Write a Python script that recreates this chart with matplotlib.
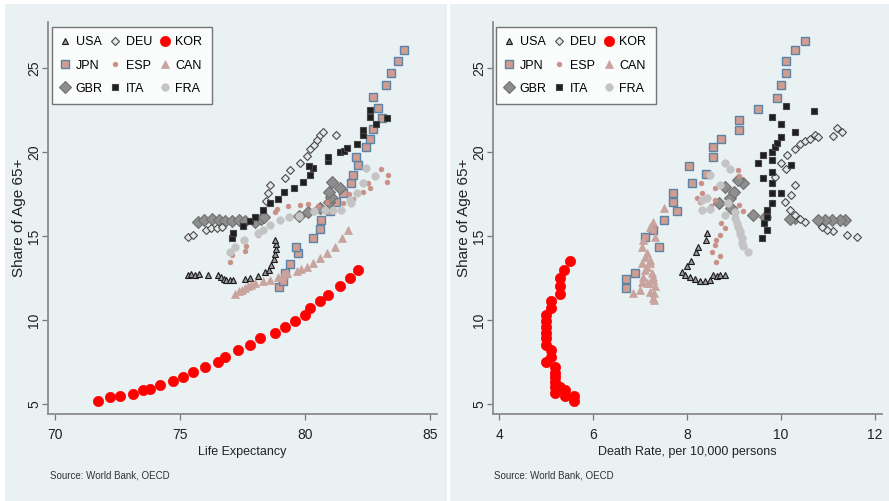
import numpy as np
import matplotlib
matplotlib.use("Agg")
import matplotlib.pyplot as plt
from matplotlib.patches import Rectangle

plt.rcParams['font.family'] = ['Liberation Sans', 'DejaVu Sans']

W, H = 889, 501
BG = '#e9f1f3'

# ---- data: (life expectancy, share 65+) and (death rate, share 65+)
usa_le = [75.3, 75.45, 75.6, 75.75, 76.1, 76.5, 76.65, 76.75, 76.85, 77.0, 77.1, 77.6, 77.8,
          78.1, 78.4, 78.55, 78.65, 78.75, 78.8, 78.85, 78.85, 78.8]
usa_le_age = [12.7, 12.75, 12.7, 12.75, 12.65, 12.7, 12.55, 12.45, 12.35, 12.35, 12.35, 12.45, 12.5,
              12.6, 12.85, 13.0, 13.3, 13.6, 13.9, 14.2, 14.5, 14.75]
usa_dr = [7.89, 8.0, 8.08, 8.2, 8.24, 8.4, 8.42, 7.96, 8.06, 8.17, 8.28, 8.38, 8.49, 8.56, 8.63, 8.7, 8.8]
usa_dr_age = [12.87, 13.2, 13.5, 14.07, 14.36, 14.76, 15.16, 12.68, 12.58, 12.42, 12.34, 12.34, 12.36,
              12.68, 12.6, 12.68, 12.68]

jpn_le = [78.95, 79.13, 79.2, 79.4, 79.7, 79.64, 80.33, 80.6, 80.63, 81.0, 81.24, 81.53, 81.83, 81.93,
          82.13, 82.04, 82.44, 82.6, 82.73, 83.07, 82.93, 82.73, 83.24, 83.44, 83.73, 83.96]
jpn_le_age = [11.95, 12.34, 12.78, 13.33, 13.97, 14.37, 14.9, 15.4, 15.95, 16.5, 17.04, 17.58, 18.17, 18.63,
              19.23, 19.72, 20.3, 20.76, 21.35, 22.0, 22.6, 23.26, 23.97, 24.7, 25.4, 26.1]
jpn_dr = [6.7, 6.7, 6.89, 7.41, 7.11, 7.28, 7.5, 7.79, 7.71, 7.71, 8.1, 8.4, 8.05, 8.55, 8.55, 8.72,
          9.11, 9.11, 9.5, 9.91, 9.99, 10.1, 10.1, 10.3, 10.51]
jpn_dr_age = [11.89, 12.42, 12.82, 14.33, 14.96, 15.36, 15.95, 16.5, 17.04, 17.58, 18.14, 18.67, 19.17,
              19.72, 20.28, 20.8, 21.3, 21.9, 22.54, 23.2, 23.99, 24.72, 25.43, 26.07, 26.6]

gbr_le = [75.73, 75.95, 76.27, 76.55, 76.8, 77.07, 77.35, 77.6, 78.0, 78.25, 78.35, 79.75, 80.1, 80.6,
          80.95, 81.05, 80.95, 81.4, 81.07]
gbr_le_age = [15.85, 15.95, 16.0, 15.95, 15.9, 15.9, 15.95, 15.9, 15.85, 16.0, 16.1, 16.2, 16.4, 16.65,
              17.0, 17.35, 17.6, 17.85, 18.23]
gbr_dr = [11.36, 11.26, 11.08, 10.94, 10.79, 10.3, 10.2, 9.66, 9.41, 8.94, 8.69, 8.91, 8.99, 8.8, 9.2, 9.09]
gbr_dr_age = [15.95, 15.95, 15.95, 15.95, 15.95, 16.05, 16.0, 16.11, 16.25, 16.65, 16.95, 17.24, 17.6,
              17.94, 18.17, 18.33]

deu_le = [75.33, 75.53, 76.04, 76.23, 76.47, 76.67, 78.45, 78.53, 78.6, 79.2, 79.4, 79.8, 80.07, 80.2,
          80.36, 80.47, 80.6, 80.73, 81.24]
deu_le_age = [14.92, 15.06, 15.36, 15.46, 15.46, 15.55, 17.1, 17.54, 18.04, 18.43, 18.93, 19.36, 19.76,
              20.16, 20.42, 20.71, 21.0, 21.2, 21.0]
deu_dr = [11.61, 11.4, 11.11, 10.97, 10.87, 10.51, 10.4, 10.3, 10.19, 10.09, 10.21, 10.3, 9.87, 10.1,
          10.01, 10.12, 10.3, 10.4, 10.51, 10.62, 10.72, 10.79, 11.1, 11.2, 11.29]
deu_dr_age = [14.92, 15.06, 15.3, 15.36, 15.55, 15.85, 16.0, 16.25, 16.55, 17.04, 17.44, 18.04, 18.53,
              18.97, 19.33, 19.8, 20.15, 20.5, 20.68, 20.8, 21.0, 20.87, 20.95, 21.4, 21.2]

esp_le = [77.0, 77.07, 77.6, 77.65, 78.13, 78.8, 78.87, 79.33, 79.8, 80.1, 80.53, 80.87, 81.53, 81.93,
          81.77, 82.33, 82.6, 82.53, 83.27, 83.33, 83.03]
esp_le_age = [13.45, 13.85, 14.1, 14.4, 15.05, 16.45, 16.6, 16.8, 16.85, 16.9, 16.8, 17.04, 16.95, 17.18,
              17.5, 17.64, 17.84, 18.13, 18.23, 18.63, 18.97]
esp_dr = [8.61, 8.7, 8.53, 8.6, 8.62, 8.7, 8.81, 8.72, 8.51, 9.2, 9.11, 8.28, 8.42, 8.21, 8.6, 8.31,
          8.6, 8.29, 9.09, 9.11]
esp_dr_age = [13.47, 13.81, 14.07, 14.46, 14.76, 15.06, 15.46, 15.75, 16.79, 16.5, 16.85, 17.04, 17.34,
              17.24, 17.14, 17.54, 17.84, 18.17, 18.93, 18.6]

ita_le = [77.07, 77.1, 77.5, 77.8, 78.0, 78.3, 78.6, 78.9, 79.15, 79.55, 79.93, 80.2, 80.33, 80.15,
          80.93, 80.93, 81.4, 81.55, 81.67, 82.07, 82.3, 82.33, 82.85, 83.27, 82.6, 82.6]
ita_le_age = [14.86, 15.2, 15.6, 15.9, 16.1, 16.55, 16.95, 17.2, 17.6, 17.85, 18.23, 18.65, 19.03, 19.15,
              19.45, 19.7, 20.0, 20.05, 20.25, 20.5, 21.0, 21.3, 21.65, 22.0, 22.1, 22.5]
ita_dr = [9.59, 9.7, 9.64, 9.7, 9.7, 9.8, 9.8, 10.0, 9.8, 9.62, 9.8, 9.5, 10.21, 9.8, 9.61, 9.8, 9.87,
          9.91, 10.01, 10.3, 10.01, 9.8, 10.71, 10.1]
ita_dr_age = [14.86, 15.36, 15.8, 16.15, 16.55, 16.98, 17.54, 17.58, 18.13, 18.43, 18.83, 19.36, 19.23,
              19.52, 19.82, 20.02, 20.28, 20.55, 20.91, 21.2, 21.67, 22.06, 22.43, 22.74]

kor_le = [71.7, 72.2, 72.6, 73.1, 73.5, 73.8, 74.2, 74.7, 75.1, 75.5, 76.0, 76.5, 76.8, 77.3, 77.8,
          78.2, 78.8, 79.2, 79.6, 80.0, 80.2, 80.6, 80.9, 81.4, 81.8, 82.1]
kor_le_age = [5.2, 5.4, 5.5, 5.6, 5.8, 5.9, 6.15, 6.35, 6.6, 6.9, 7.2, 7.5, 7.8, 8.2, 8.5, 8.9, 9.25,
              9.6, 9.95, 10.3, 10.7, 11.1, 11.5, 12.0, 12.5, 13.0]
kor_dr = [5.6, 5.6, 5.4, 5.4, 5.3, 5.2, 5.2, 5.2, 5.2, 5.2, 5.2, 4.99, 5.11, 5.11, 4.99, 4.99, 4.99,
          4.99, 4.99, 4.99, 5.11, 5.11, 5.3, 5.3, 5.3, 5.39, 5.51]
kor_dr_age = [5.2, 5.45, 5.45, 5.85, 6.0, 5.65, 6.0, 6.3, 6.6, 6.85, 7.2, 7.5, 7.8, 8.2, 8.5, 8.9, 9.25,
              9.6, 9.95, 10.3, 10.7, 11.15, 11.55, 12.0, 12.5, 13.0, 13.5]

can_le = [77.2, 77.35, 77.47, 77.6, 77.73, 77.85, 78.0, 78.3, 78.6, 78.93, 79.1, 79.27, 79.67, 79.85,
          80.07, 80.33, 80.6, 80.87, 81.2, 81.47, 81.73]
can_le_age = [11.55, 11.7, 11.8, 11.9, 12.0, 12.1, 12.18, 12.3, 12.38, 12.58, 12.68, 12.78, 12.93, 13.05,
              13.17, 13.37, 13.67, 13.97, 14.37, 14.86, 15.36]
can_dr = [6.86, 7.0, 7.28, 7.3, 7.21, 7.3, 7.32, 7.18, 7.14, 7.04, 7.28, 7.07, 7.28, 7.25, 7.11, 7.14,
          7.21, 7.04, 7.21, 7.11, 7.14, 7.04, 7.07, 7.32, 7.21, 7.28, 7.5]
can_dr_age = [11.59, 11.79, 11.29, 11.19, 11.69, 11.59, 12.0, 12.18, 12.18, 12.28, 12.38, 12.58, 12.58,
              12.78, 12.98, 13.17, 13.37, 13.37, 13.57, 13.77, 13.97, 14.37, 14.76, 14.96, 15.55, 15.85, 16.65]

fra_le = [77.0, 77.2, 77.55, 78.13, 78.33, 78.6, 79.0, 79.35, 79.75, 80.35, 80.8, 81.13, 81.45, 81.85,
          81.8, 82.07, 82.33, 82.8, 82.43]
fra_le_age = [14.07, 14.37, 14.76, 15.16, 15.36, 15.65, 15.95, 16.15, 16.2, 16.5, 16.55, 16.55, 16.55,
              16.98, 17.14, 17.58, 18.13, 18.55, 19.03]
fra_dr = [9.3, 9.2, 9.18, 9.16, 9.13, 9.13, 9.09, 9.06, 9.02, 8.81, 9.02, 8.31, 8.49, 8.88, 8.31, 8.42,
          8.7, 8.49, 8.91, 8.81]
fra_dr_age = [14.07, 14.4, 14.6, 14.86, 15.1, 15.3, 15.55, 15.8, 16.05, 16.25, 16.45, 16.55, 16.6, 16.95,
              17.14, 17.24, 18.04, 18.63, 19.0, 19.36]

countries = ['USA', 'JPN', 'GBR', 'DEU', 'ESP', 'ITA', 'KOR', 'CAN', 'FRA']
left_data = [(usa_le, usa_le_age), (jpn_le, jpn_le_age), (gbr_le, gbr_le_age), (deu_le, deu_le_age),
             (esp_le, esp_le_age), (ita_le, ita_le_age), (kor_le, kor_le_age), (can_le, can_le_age),
             (fra_le, fra_le_age)]
right_data = [(usa_dr, usa_dr_age), (jpn_dr, jpn_dr_age), (gbr_dr, gbr_dr_age), (deu_dr, deu_dr_age),
              (esp_dr, esp_dr_age), (ita_dr, ita_dr_age), (kor_dr, kor_dr_age), (can_dr, can_dr_age),
              (fra_dr, fra_dr_age)]

# marker styles per country
styles = {
    'USA': dict(marker='^', ms=4.2, mfc='#9a9a9a', mec='#1a1a1a', mew=0.8),
    'JPN': dict(marker='s', ms=5.6, mfc='#d29d91', mec='#5a83a8', mew=1.0),
    'GBR': dict(marker='D', ms=5.8, mfc='#8e8e8e', mec='#707070', mew=0.8),
    'DEU': dict(marker='D', ms=3.6, mfc='#e4e8e8', mec='#4a4a4a', mew=0.8),
    'ESP': dict(marker='o', ms=3.4, mfc='#c98f86', mec='#c98f86', mew=0.5),
    'ITA': dict(marker='s', ms=4.2, mfc='#1e1e1e', mec='#444444', mew=0.8),
    'KOR': dict(marker='o', ms=7.4, mfc='#ff0000', mec='#ff0000', mew=0.5),
    'CAN': dict(marker='^', ms=5.4, mfc='#c9a49e', mec='#c9a49e', mew=0.5),
    'FRA': dict(marker='o', ms=5.4, mfc='#c4c4c4', mec='#c4c4c4', mew=0.5),
}

fig = plt.figure(figsize=(W / 100, H / 100), dpi=100)
fig.patch.set_facecolor('white')

# panel backgrounds
fig.patches.append(Rectangle((5 / W, 0), (447 - 5) / W, (H - 4) / H, transform=fig.transFigure,
                             facecolor=BG, edgecolor='none', zorder=-10))
fig.patches.append(Rectangle((450 / W, 0), (W - 450) / W, (H - 4) / H, transform=fig.transFigure,
                             facecolor=BG, edgecolor='none', zorder=-10))


def make_axes(x0, xlim, xticks, xlabel, data, legend_x0):
    ax = fig.add_axes([x0 / W, (H - 414) / H, 389 / W, 392 / H])
    ax.set_facecolor('none')
    for name, (xs, ys) in zip(countries, data):
        ax.plot(xs, ys, linestyle='none', label=name, **styles[name])
    ax.set_xlim(*xlim)
    ax.set_ylim(4.40, 27.74)
    ax.set_xticks(xticks)
    ax.set_yticks([5, 10, 15, 20, 25])
    ax.spines['top'].set_visible(False)
    ax.spines['right'].set_visible(False)
    for s in ('left', 'bottom'):
        ax.spines[s].set_color('#8c8c8c')
        ax.spines[s].set_linewidth(1.3)
    ax.tick_params(axis='both', direction='out', length=4, width=0.9, color='#777777',
                   labelcolor='#222222', labelsize=10)
    ax.tick_params(axis='x', pad=6)
    ax.tick_params(axis='y', pad=1)
    for lab in ax.get_yticklabels():
        lab.set_rotation(90)
        lab.set_va('center')
    ax.set_xlabel(xlabel, fontsize=9, color='#222222', labelpad=3)
    ax.set_ylabel('Share of Age 65+', fontsize=11, color='#222222', labelpad=1)
    leg = ax.legend(ncol=3, loc='upper left', bbox_to_anchor=((legend_x0 - x0) / 389, 1 - 5 / 392),
                    frameon=True, fancybox=False, fontsize=9,
                    handlelength=0.6, handletextpad=0.55, columnspacing=0.7, labelspacing=0.9,
                    borderpad=0.75, borderaxespad=0)
    leg.get_frame().set_edgecolor('#555555')
    leg.get_frame().set_linewidth(1.0)
    return ax


make_axes(48, (69.72, 85.28), [70, 75, 80, 85], 'Life Expectancy', left_data, 52)
make_axes(493, (3.87, 12.15), [4, 6, 8, 10, 12], 'Death Rate, per 10,000 persons', right_data, 496)

fig.text(50 / W, 1 - 475 / H, 'Source: World Bank, OECD', fontsize=7,
         color='#333333', va='center')
fig.text(494 / W, 1 - 475 / H, 'Source: World Bank, OECD', fontsize=7,
         color='#333333', va='center')

fig.savefig('out.png', dpi=100, facecolor=fig.get_facecolor())
